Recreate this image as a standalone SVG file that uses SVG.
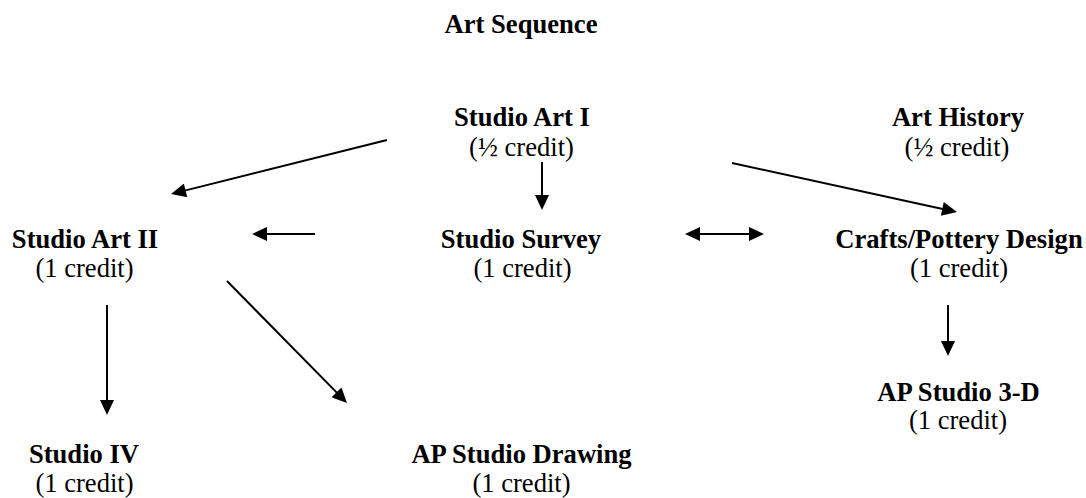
<svg xmlns="http://www.w3.org/2000/svg" width="1086" height="498" viewBox="0 0 1086 498">
<defs>
<style>
text{font-family:"Liberation Serif","Times New Roman",serif;font-size:26.6px;fill:#000;text-anchor:middle}
.t{font-weight:bold}
.c{stroke:#000;stroke-width:2;fill:none;marker-end:url(#ah)}
</style>
<marker id="ah" markerUnits="userSpaceOnUse" markerWidth="16" markerHeight="14" refX="5" refY="7" orient="auto-start-reverse" viewBox="0 0 15 14">
<path d="M0,0 L15,7 L0,14 z" fill="#000"/>
</marker>
</defs>
<rect width="1086" height="498" fill="#fff"/>
<text class="t" x="521" y="33">Art Sequence</text>
<g id="studio-art-1"><text class="t" x="522" y="126">Studio Art I</text><text x="521.5" y="156">(½ credit)</text></g>
<g id="art-history"><text class="t" x="958" y="126">Art History</text><text x="957" y="156">(½ credit)</text></g>
<g id="studio-art-2"><text class="t" x="85" y="248">Studio Art II</text><text x="84.5" y="277">(1 credit)</text></g>
<g id="studio-survey"><text class="t" x="521" y="248">Studio Survey</text><text x="522.5" y="277">(1 credit)</text></g>
<g id="crafts"><text class="t" x="959" y="248">Crafts/Pottery Design</text><text x="959" y="277">(1 credit)</text></g>
<g id="ap-3d"><text class="t" x="958.5" y="401">AP Studio 3-D</text><text x="958" y="429">(1 credit)</text></g>
<g id="studio-4"><text class="t" x="84" y="463">Studio IV</text><text x="84.5" y="492">(1 credit)</text></g>
<g id="ap-drawing"><text class="t" x="521.5" y="463">AP Studio Drawing</text><text x="521.5" y="492">(1 credit)</text></g>
<g id="connectors">
<line class="c" x1="387" y1="140" x2="180.7" y2="191.6"/>
<line class="c" x1="315" y1="234" x2="262" y2="234"/>
<line class="c" x1="542" y1="162" x2="542" y2="200"/>
<line class="c" x1="695" y1="234" x2="754" y2="234" style="marker-start:url(#ah)"/>
<line class="c" x1="732" y1="163" x2="947.2" y2="209.9"/>
<line class="c" x1="107" y1="305" x2="107" y2="405"/>
<line class="c" x1="227" y1="281" x2="340" y2="395.9"/>
<line class="c" x1="948" y1="305" x2="948" y2="346"/>
</g>
</svg>
